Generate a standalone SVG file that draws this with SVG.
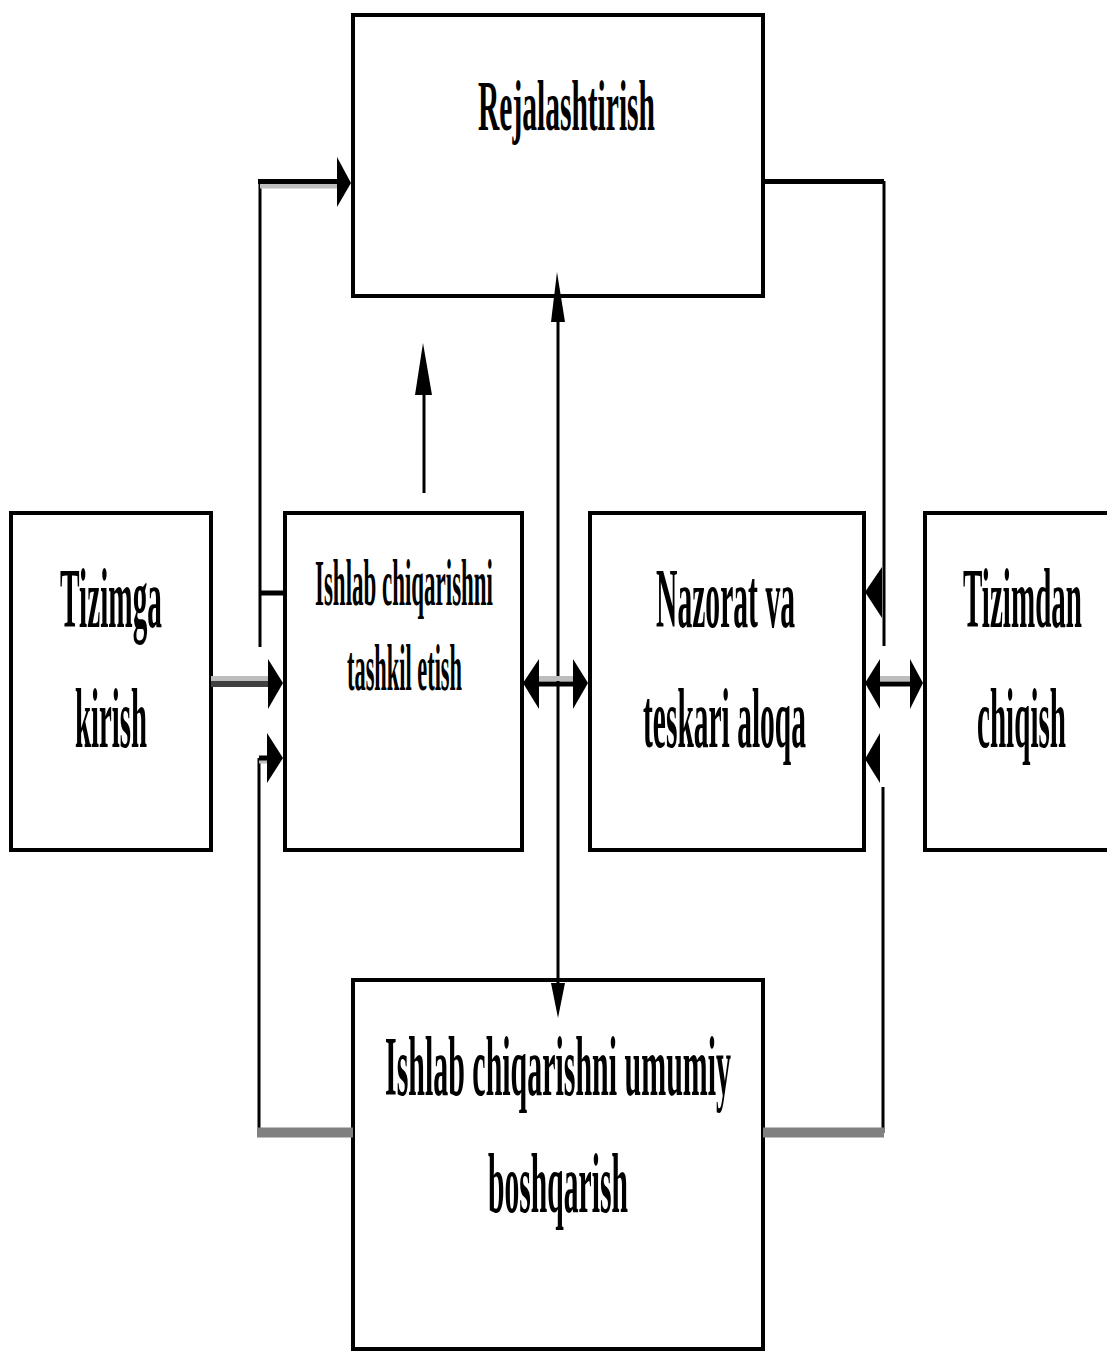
<svg xmlns="http://www.w3.org/2000/svg" width="1107" height="1351" viewBox="0 0 1107 1351">
  <style>
    .box { fill: none; stroke: #000000; stroke-width: 4; }
    .ln { fill: none; stroke: #000000; stroke-width: 3; }
    .thick { fill: none; stroke: #000000; stroke-width: 5; }
    .shade { fill: none; stroke: #bdbdbd; stroke-width: 5; }
    .dark { fill: none; stroke: #404040; stroke-width: 6; }
    .grey { fill: none; stroke: #808080; stroke-width: 10; }
    .head { fill: #000000; }
    text { font-family: "Liberation Serif", "Times New Roman", serif; font-weight: bold; fill: #000000; }
  </style>

  <rect width="1107" height="1351" fill="#ffffff"/>

  <!-- nodes -->
  <g id="rejalashtirish">
    <rect class="box" x="353" y="15" width="410" height="281"/>
    <text transform="translate(478,130) scale(0.4,1)" font-size="72" textLength="442.5" lengthAdjust="spacingAndGlyphs">Rejalashtirish</text>
  </g>

  <g id="tizimga-kirish">
    <rect class="box" x="11" y="513" width="200" height="337"/>
    <text transform="translate(60,627) scale(0.4,1)" font-size="84" textLength="255" lengthAdjust="spacingAndGlyphs">Tizimga</text>
    <text transform="translate(75,747) scale(0.4,1)" font-size="84" textLength="180" lengthAdjust="spacingAndGlyphs">kirish</text>
  </g>

  <g id="tashkil-etish">
    <rect class="box" x="285" y="513" width="237" height="337"/>
    <text transform="translate(315,605) scale(0.4,1)" font-size="66" textLength="445" lengthAdjust="spacingAndGlyphs">Ishlab chiqarishni</text>
    <text transform="translate(347,690) scale(0.4,1)" font-size="66" textLength="287.5" lengthAdjust="spacingAndGlyphs">tashkil etish</text>
  </g>

  <g id="nazorat">
    <rect class="box" x="590" y="513" width="274" height="337"/>
    <text transform="translate(656,627) scale(0.4,1)" font-size="84" textLength="347.5" lengthAdjust="spacingAndGlyphs">Nazorat va</text>
    <text transform="translate(643,747) scale(0.4,1)" font-size="84" textLength="407.5" lengthAdjust="spacingAndGlyphs">teskari aloqa</text>
  </g>

  <g id="tizimdan-chiqish">
    <rect class="box" x="925" y="513" width="200" height="337"/>
    <text transform="translate(963,627) scale(0.4,1)" font-size="84" textLength="297.5" lengthAdjust="spacingAndGlyphs">Tizimdan</text>
    <text transform="translate(977,747) scale(0.4,1)" font-size="84" textLength="222.5" lengthAdjust="spacingAndGlyphs">chiqish</text>
  </g>

  <g id="umumiy-boshqarish">
    <rect class="box" x="353" y="980" width="410" height="369"/>
    <text transform="translate(385,1095) scale(0.4,1)" font-size="84" textLength="865" lengthAdjust="spacingAndGlyphs">Ishlab chiqarishni umumiy</text>
    <text transform="translate(488,1212) scale(0.4,1)" font-size="84" textLength="350" lengthAdjust="spacingAndGlyphs">boshqarish</text>
  </g>

  <!-- connectors -->
  <g id="connectors">
    <!-- left feedback loop into planning -->
    <path class="ln" d="M260,647 V182"/>
    <path class="shade" d="M260,186 H338"/>
    <path class="thick" d="M258,181.5 H338"/>
    <polygon class="head" points="337,157 351,183 337,207"/>
    <path class="thick" d="M259,593 H285"/>

    <!-- input to organisation -->
    <path class="shade" d="M211,678.5 H268"/>
    <path class="dark" d="M211,684 H268"/>
    <polygon class="head" points="268,659 283,683 268,709"/>

    <!-- lower left loop from general management -->
    <path class="ln" d="M259,758 V1133"/>
    <path class="shade" d="M259,761 H268"/>
    <path class="thick" d="M259,758 H268"/>
    <polygon class="head" points="267,733 283,758 267,783"/>
    <path class="grey" d="M257,1132.5 H353"/>

    <!-- organisation up to planning -->
    <path class="ln" d="M424,493 V390"/>
    <polygon class="head" points="415,395 423,343 432,395"/>

    <!-- planning <-> general management -->
    <path class="ln" d="M558,320 V985"/>
    <polygon class="head" points="551,322 557,272 565,322"/>
    <polygon class="head" points="551,983 558,1018 565,983"/>

    <!-- organisation <-> control -->
    <path class="shade" d="M538,678.5 H574"/>
    <path class="thick" d="M538,684 H574"/>
    <polygon class="head" points="539,659 523,683 539,709"/>
    <polygon class="head" points="573,659 588,683 573,709"/>

    <!-- right feedback loop from planning -->
    <path class="thick" d="M763,181.5 H884"/>
    <path class="ln" d="M884,181 V646"/>
    <polygon class="head" points="882,567 865,592 882,618"/>

    <!-- control <-> output -->
    <path class="shade" d="M879,678.5 H911"/>
    <path class="thick" d="M879,684 H911"/>
    <polygon class="head" points="880,659 865,683 880,709"/>
    <polygon class="head" points="910,659 923,683 910,709"/>

    <!-- lower right loop to general management -->
    <path class="ln" d="M883,787 V1133"/>
    <polygon class="head" points="880,733 865,759 880,783"/>
    <path class="grey" d="M763,1132.5 H884"/>
  </g>
</svg>
